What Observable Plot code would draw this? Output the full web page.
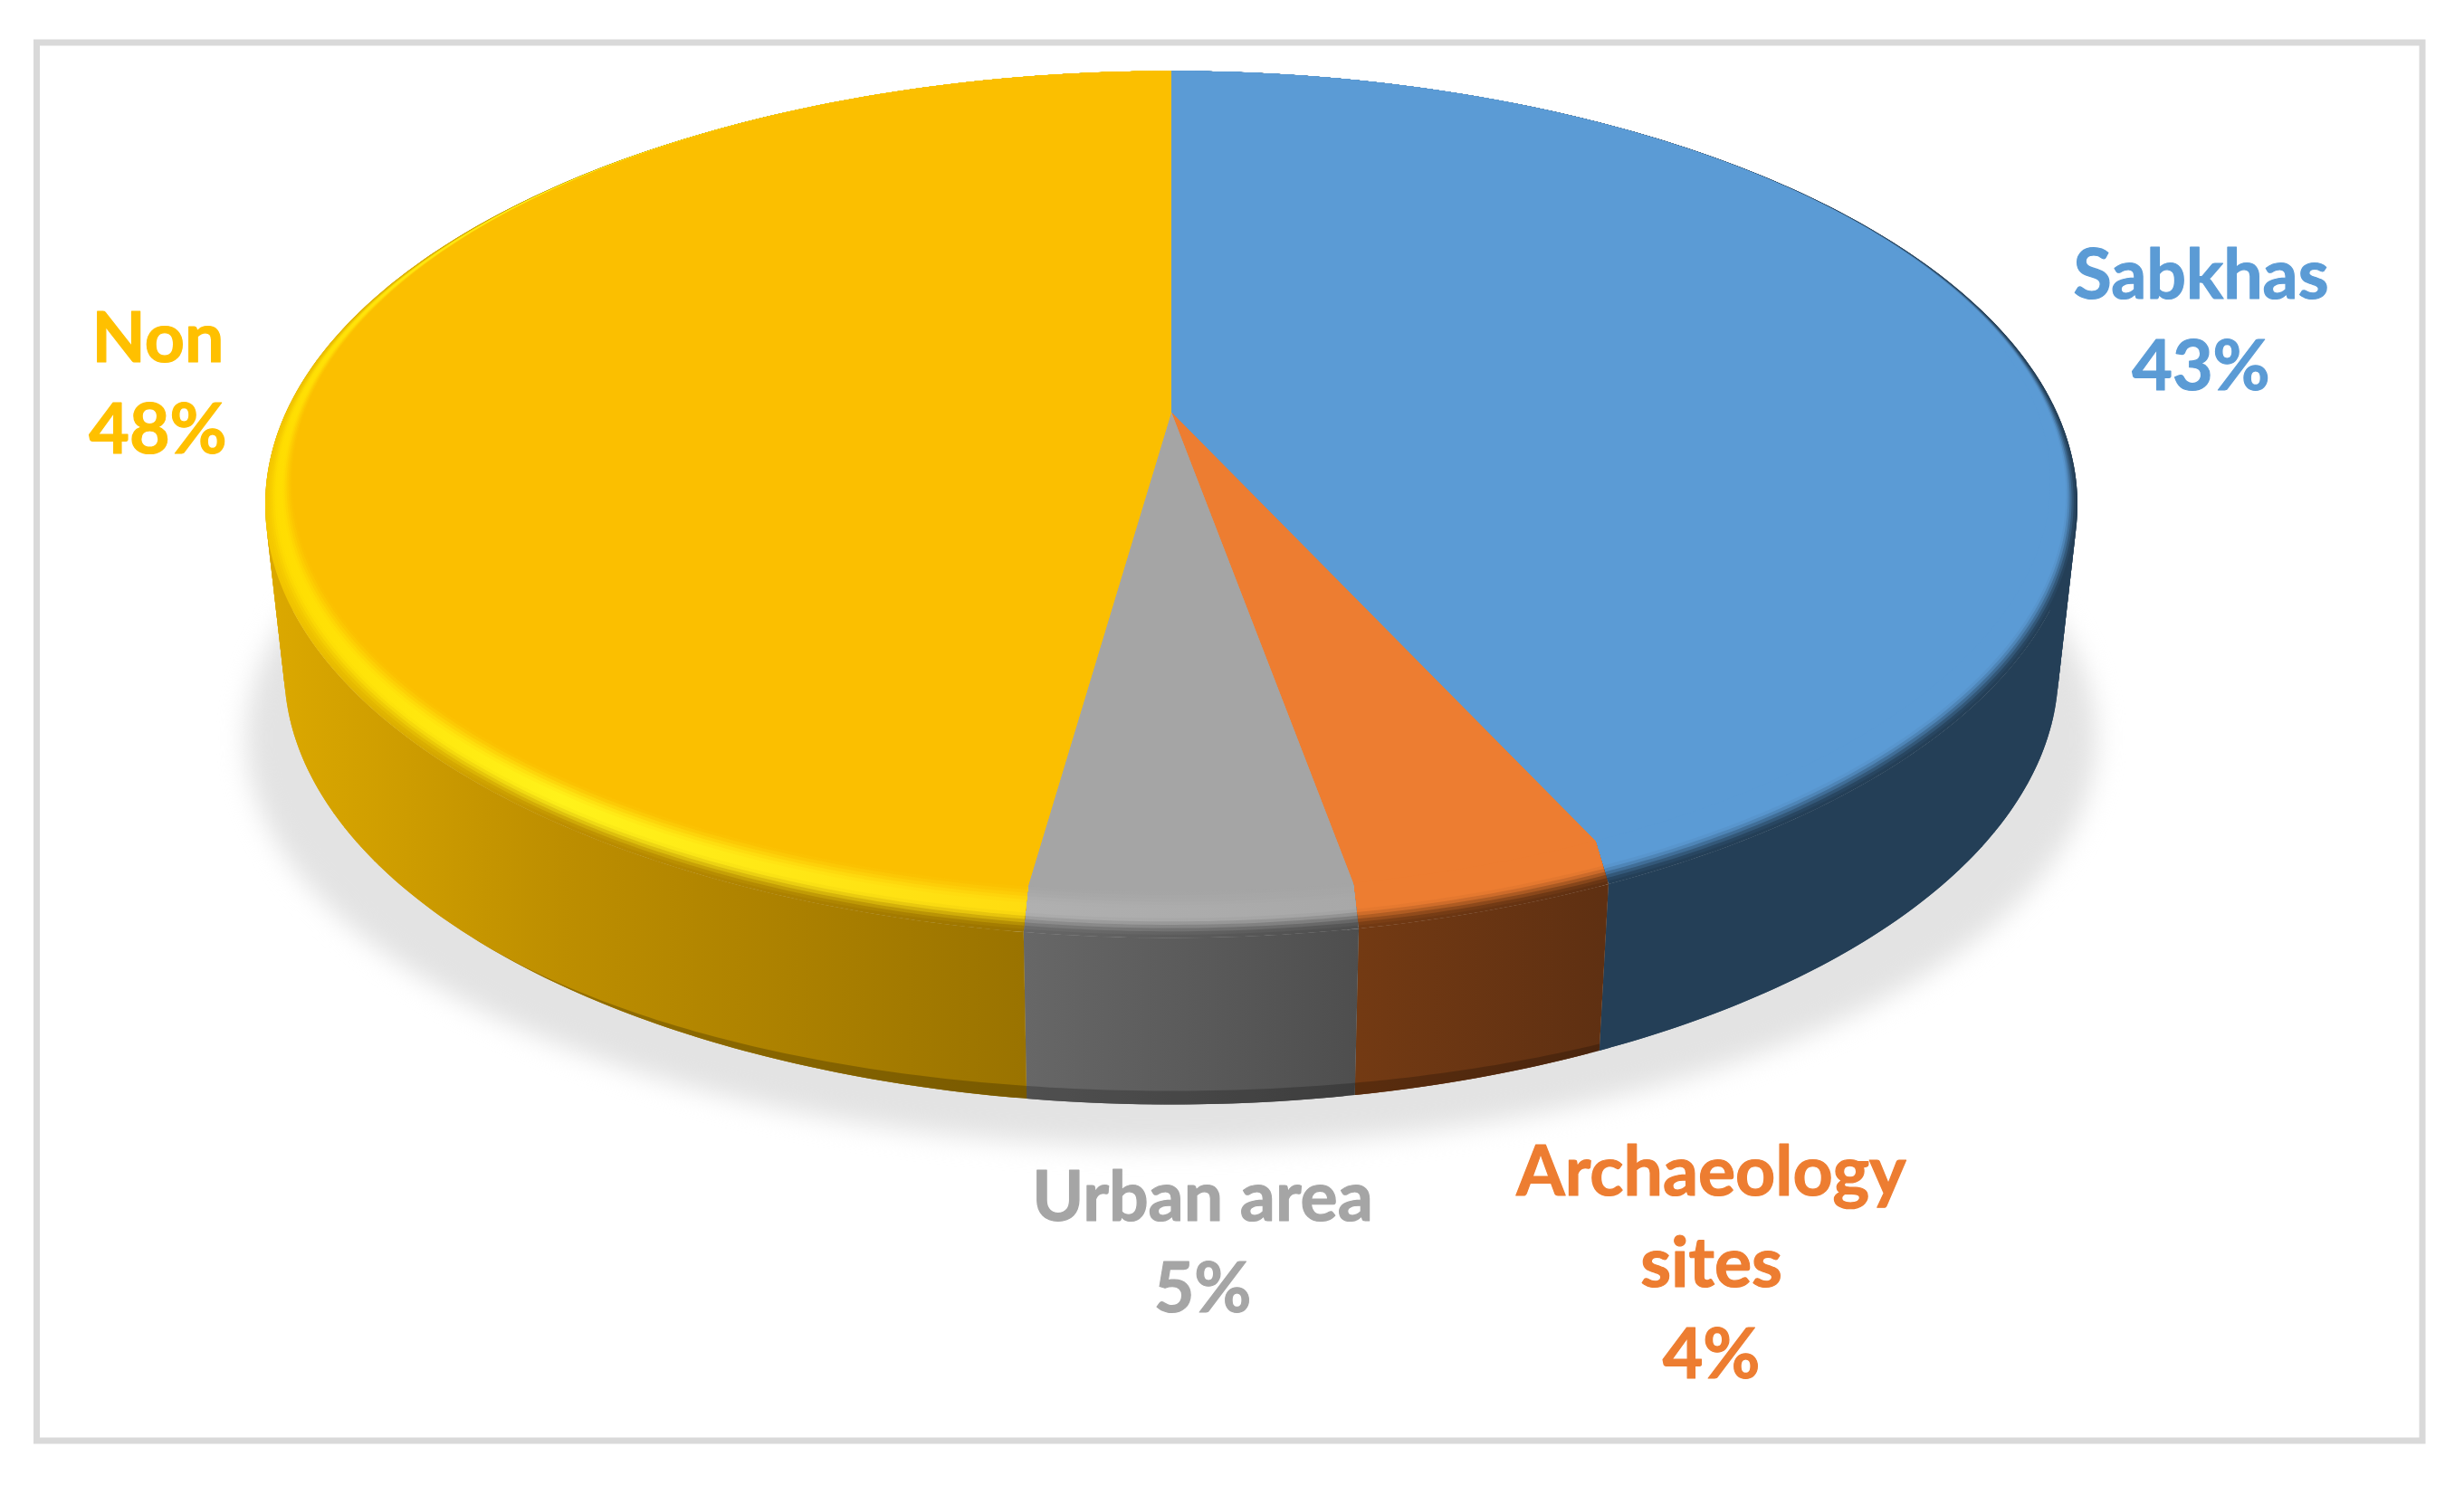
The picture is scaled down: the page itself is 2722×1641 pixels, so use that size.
<!DOCTYPE html>
<html><head><meta charset="utf-8">
<style>html,body{margin:0;padding:0;background:#fff}</style>
<script src="https://cdn.jsdelivr.net/npm/d3@7"></script>
<script src="https://cdn.jsdelivr.net/npm/@observablehq/plot@0.6"></script>
</head><body>
<script>
// Data (clockwise from 12 o'clock; percentages, labels round them)
const categories = ["Sabkhas", "Archaeology\nsites", "Urban area", "Non"];
const values = [43.2, 4.0, 5.0, 47.8];

// Styling
const topColors = ["#5b9bd5", "#ed7d31", "#a5a5a5", "#fbbf00"];
const labelColors = ["#5b9bd5", "#ed7d31", "#a5a5a5", "#ffc000"];
const sideStopX = [[1300, 2300], [1502, 1770], [1132, 1502], [292, 620, 1132]];
const sideColors = [["#243f57", "#243f57"], ["#733a13", "#5f3012"], ["#676767", "#4e4e4e"], ["#dca900", "#bd8e00", "#9a7300"]];
const bandEdgeColors = [["#243f57", "#243f57"], ["#733a13", "#5f3012"], ["#676767", "#4e4e4e"], ["#f5c800", "#bd8e00", "#9a7300"]];
const rimColors = [["#5b9bd5", "#5b9bd5"], ["#ed7d31", "#ed7d31"], ["#b0b0b0", "#a8a8a8"], ["#ffdc00", "#fff21a", "#ffdc10"]];
const labelX = [2431, 1890, 1328, 174];
const labelY = [348, 1389, 1367, 418];

// Perspective disc model
const cx = 1293.5, d = 5.93;
const model = (front, back, rx) => {
  const g = (front - back) / (1 / (d - 1) + 1 / (d + 1));
  return {g, y0: front - g / (d - 1), f: rx * Math.sqrt(d * d - 1)};
};
const flat = model(985, 78, 971);
const rim = model(1036, 78, 1001);
const base = model(1220, 260, 980);
const mixModel = (a, b, t) => ({g: a.g + (b.g - a.g) * t, y0: a.y0 + (b.y0 - a.y0) * t, f: a.f + (b.f - a.f) * t});
const pt = (m, a) => {
  const s = Math.sin(a), c = Math.cos(a), k = d + c;
  return {x: cx + m.f * s / k, y: m.y0 - m.g * c / k};
};
const arc = (m, a0, a1) => {
  const n = Math.max(2, Math.ceil((a1 - a0) * 90));
  return d3.range(n + 1).map(i => pt(m, a0 + (a1 - a0) * i / n));
};

// Angles derived from the values
const total = d3.sum(values);
const cum = d3.cumsum(values);
const slices = values.map((v, i) => ({a0: (cum[i] - v) / total * 2 * Math.PI, a1: cum[i] / total * 2 * Math.PI}));
const apex = {x: cx, y: flat.y0};

const wedge = (m, s) => [apex, pt(flat, s.a0), ...arc(m, s.a0, s.a1), pt(flat, s.a1)];
// The wall of a slice: overlapping quads between the rim and the base, so the straight silhouette is filled too
const side = s => {
  const top = arc(rim, s.a0, s.a1), bot = arc(base, s.a0, s.a1), out = [];
  for (let i = 0; i + 1 < top.length; ++i) {
    const j = Math.min(i + 2, top.length - 1);
    out.push({...top[i], q: i}, {...top[j], q: i}, {...bot[j], q: i}, {...bot[i], q: i});
  }
  return out;
};

const smooth = (e0, e1, t) => { const u = Math.min(1, Math.max(0, (t - e0) / (e1 - e0))); return u * u * (3 - 2 * u); };
const STEPS = 14;

// Gradients
function defs() {
  const root = d3.create("svg:defs");
  const grad = (id, xs, cols) => {
    const g = root.append("linearGradient").attr("id", id).attr("gradientUnits", "userSpaceOnUse")
      .attr("x1", xs[0]).attr("x2", xs[xs.length - 1]).attr("y1", 0).attr("y2", 0);
    xs.forEach((x, j) => g.append("stop").attr("offset", (x - xs[0]) / (xs[xs.length - 1] - xs[0])).attr("stop-color", cols[j]));
  };
  slices.forEach((s, i) => {
    grad(`side${i}`, sideStopX[i], sideColors[i]);
    for (let k = 0; k <= STEPS; ++k) {
      const t = k / STEPS;
      const cols = sideStopX[i].map((_, j) =>
        d3.interpolateRgb(d3.interpolateRgb(bandEdgeColors[i][j], rimColors[i][j])(smooth(0, 0.42, t)), topColors[i])(smooth(0.55, 1, t)));
      grad(`band${i}_${k}`, sideStopX[i], cols);
    }
  });
  return root.node();
}

const poly = (pts, fill, extra = {}) => Plot.line(pts, {x: "x", y: "y", fill, stroke: "none", ...extra});

const shadowPts = d3.range(0, 361, 2).map(a => ({
  x: cx + 1022 * Math.sin(a * Math.PI / 180),
  y: 815 - 452 * Math.cos(a * Math.PI / 180)
}));

// darker lip along the bottom of the front edge
const lipA0 = slices[1].a0, lipA1 = 4.2;
const lipOuter = arc(base, lipA0, lipA1);
const lipInner = lipOuter.map((p, i, arr) => {
  const a = lipA0 + (lipA1 - lipA0) * i / (arr.length - 1);
  const w = Math.pow(Math.max(0, (-Math.cos(a) - 0.7) / 0.3), 2);
  return {x: p.x, y: p.y - 15 * w};
});

const labelTable = categories.map((c, i) => ({
  text: `${c}\n${Math.round(values[i])}%`, x: labelX[i], y: labelY[i], color: labelColors[i]
}));

const marks = [
  defs,
  poly(shadowPts, "#e3e3e3", {imageFilter: "blur(14px)"}),
  ...slices.map((s, i) => poly(side(s), `url(#side${i})`, {z: "q"})),
  poly([...lipOuter, ...lipInner.slice().reverse()], "#000", {fillOpacity: 0.22}),
  ...slices.flatMap((s, i) => d3.range(STEPS + 1).map(k =>
    poly(wedge(mixModel(rim, flat, k / STEPS), s), `url(#band${i}_${k})`))),
  ...slices.map((s, i) => poly(wedge(flat, s), topColors[i])),
  ...labelTable.map(l => Plot.text([l], {
    x: "x", y: "y", text: "text", fill: l.color, stroke: l.color, strokeWidth: 1.2, fontSize: 77, fontWeight: 700,
    fontFamily: "Lato", lineHeight: 1.31, textAnchor: "middle", lineAnchor: "middle"
  })),
  Plot.rect([{x1: 40.5, x2: 2676, y1: 47, y2: 1592}], {x1: "x1", x2: "x2", y1: "y1", y2: "y2", fill: "none", stroke: "#d9d9d9", strokeWidth: 7})
];

const chart = Plot.plot({
  width: 2722, height: 1641,
  margin: 0,
  x: {domain: [0, 2722], range: [0, 2722], axis: null},
  y: {domain: [0, 1641], range: [0, 1641], axis: null},
  style: {background: "#fff", maxWidth: "none"},
  marks
});
document.body.appendChild(chart);
</script>
</body></html>
